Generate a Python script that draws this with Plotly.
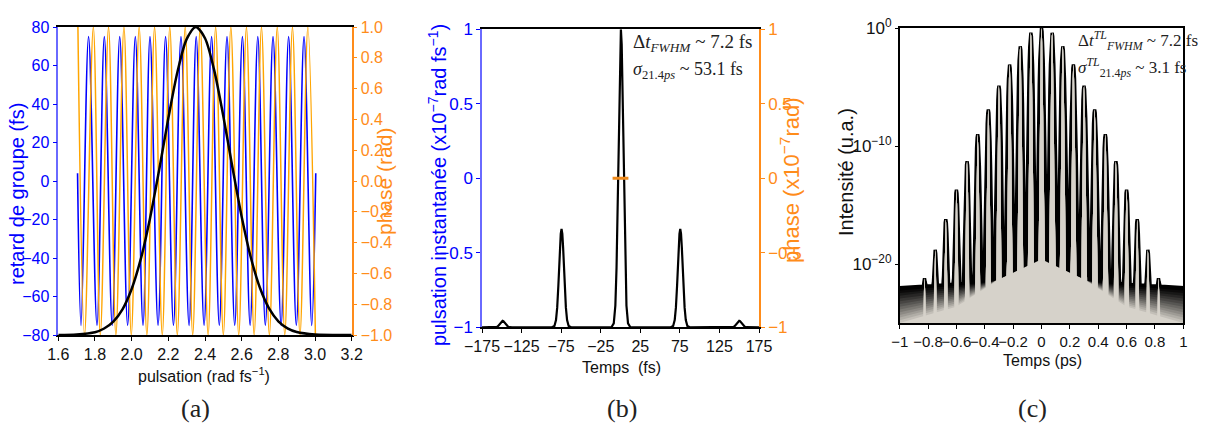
import numpy as np
import plotly.graph_objects as go

W, H = 1207, 427

# ---------------- Panel (a) data ----------------
gd_x = [1.705, 1.724, 1.765, 1.811, 1.851, 1.894, 1.935, 1.978, 2.020, 2.062, 2.100,
        2.144, 2.185, 2.228, 2.269, 2.313, 2.352, 2.395, 2.436, 2.478, 2.520, 2.562,
        2.604, 2.646, 2.688, 2.729, 2.771, 2.815, 2.856, 2.898, 2.940, 2.982, 3.004]
gd_y = [4, -75, 75, -75, 75, -75, 75, -75, 75, -75, 75,
        -75, 75, -75, 75, -75, 75, -75, 75, -75, 75, -75,
        75, -75, 75, -75, 75, -75, 75, -75, 75, -75, 4]

ph_x = [1.707, 1.743, 1.791, 1.829, 1.874, 1.914, 1.958, 1.998, 2.041, 2.083, 2.125,
        2.167, 2.208, 2.249, 2.292, 2.333, 2.374, 2.417, 2.458, 2.500, 2.541, 2.584,
        2.626, 2.668, 2.708, 2.751, 2.794, 2.835, 2.877, 2.918, 2.961, 3.002]
ph_y = [1, -1, 1, -1, 1, -1, 1, -1, 1, -1, 1,
        -1, 1, -1, 1, -1, 1, -1, 1, -1, 1, -1,
        1, -1, 1, -1, 1, -1, 1, -1, 1, -1]

spec_x = [1.60, 1.70, 1.80, 1.85, 1.90, 1.95, 2.00, 2.05, 2.10, 2.15, 2.20, 2.25, 2.30,
          2.35, 2.40, 2.45, 2.50, 2.55, 2.60, 2.65, 2.70, 2.75, 2.80, 2.85, 2.90, 3.00, 3.20]
spec_y = [-1.0, -0.997, -0.982, -0.958, -0.913, -0.833, -0.701, -0.506, -0.243, 0.072,
          0.407, 0.709, 0.921, 1.0, 0.927, 0.72, 0.42, 0.086, -0.232, -0.497, -0.695,
          -0.829, -0.911, -0.957, -0.981, -0.997, -1.0]

# ---------------- Panel (b) data ----------------
b_peak_t = [-149, -74.5, 0.5, 75.5, 150]
b_peak_h = [0.022, 0.33, 1.0, 0.33, 0.022]
b_prof_dt = [-12, -9, -7, -5.5, -4, -3, -2, -1, 0, 1, 2, 3, 4, 5.5, 7, 9, 12]
b_prof_v = [0.0, 0.013, 0.073, 0.2, 0.425, 0.62, 0.81, 0.95, 1.0,
            0.95, 0.81, 0.62, 0.425, 0.2, 0.073, 0.013, 0.0]
b_phase_t = [-10, 10]
b_phase_v = [0, 0]

# ---------------- Panel (c) data ----------------
c_peak_t = [-0.825, -0.75, -0.675, -0.6, -0.525, -0.45, -0.375, -0.3, -0.225, -0.15, -0.075,
            0.0, 0.075, 0.15, 0.225, 0.3, 0.375, 0.45, 0.525, 0.6, 0.675, 0.75, 0.825]
c_peak_log = [-21.2, -18.8, -16.2, -13.7, -11.3, -9.0, -6.9, -4.9, -3.1, -1.55, -0.4,
              0.0, -0.4, -1.55, -3.1, -4.9, -6.9, -9.0, -11.3, -13.7, -16.2, -18.8, -21.2]
c_prof_dt_fs = [0, 4, 8, 12, 16, 20, 25, 30, 36, 42]
c_prof_drop = [0, -0.3, -1.2, -2.7, -4.8, -7.5, -11.5, -16.5, -23.5, -32.0]
c_floor_t = [-1.0, -0.6, -0.3, 0.0, 0.3, 0.6, 1.0]
c_floor_dark = [-22.0, -21.7, -21.4, -21.2, -21.4, -21.7, -22.0]
c_floor_light = [-25.0, -23.6, -21.3, -19.6, -21.3, -23.6, -25.0]

# ---------------- styling ----------------
BLUE = "#0000ff"
ORANGE = "#ffa500"
ORANGE_AX = "#ff8c1a"
SANS = "Liberation Sans, Arial, sans-serif"
SERIF = "Liberation Serif, DejaVu Serif, serif"


def fx(p):
    return p / W


def fy(p):
    return 1 - p / H


dom_a = dict(x=[fx(58.3), fx(351.7)], y=[fy(335), fy(27)])
dom_b = dict(x=[fx(482), fx(759)], y=[fy(327.3), fy(29.3)])
dom_c = dict(x=[fx(899.7), fx(1183.3)], y=[fy(323.3), fy(28)])

fig = go.Figure()

# ---- (a) ----
fig.add_trace(go.Scatter(x=ph_x, y=ph_y, xaxis="x", yaxis="y2", mode="lines",
                         line=dict(color=ORANGE, width=1.5, shape="spline", smoothing=1.0),
                         hoverinfo="skip", showlegend=False))
fig.add_trace(go.Scatter(x=gd_x, y=gd_y, xaxis="x", yaxis="y", mode="lines",
                         line=dict(color=BLUE, width=1.6, shape="spline", smoothing=1.0),
                         hoverinfo="skip", showlegend=False))
fig.add_trace(go.Scatter(x=spec_x, y=spec_y, xaxis="x", yaxis="y2", mode="lines",
                         line=dict(color="black", width=2.5, shape="spline", smoothing=0.8),
                         hoverinfo="skip", showlegend=False))

# ---- (b) ----
bx, by = [-175.0], [-1.0]
for t0, h in zip(b_peak_t, b_peak_h):
    for dt, v in zip(b_prof_dt, b_prof_v):
        bx.append(t0 + dt)
        by.append(-1 + 2 * h * v)
bx.append(175.0)
by.append(-1.0)
fig.add_trace(go.Scatter(x=bx, y=by, xaxis="x2", yaxis="y3", mode="lines",
                         line=dict(color="black", width=2.2),
                         hoverinfo="skip", showlegend=False))
fig.add_trace(go.Scatter(x=b_phase_t, y=b_phase_v, xaxis="x2", yaxis="y4", mode="lines",
                         line=dict(color="#ee8a1c", width=3),
                         hoverinfo="skip", showlegend=False))

# ---- (c) ----
pk_t = np.array(c_peak_t)
pk_l = np.array(c_peak_log)
prof_dr = np.array(c_prof_drop)


def envelope(width_scale):
    pdt = np.array(c_prof_dt_fs) / 1000.0 * width_scale
    samples = set(c_floor_t)
    for t0 in c_peak_t:
        for d in pdt:
            samples.add(round(t0 - d, 6))
            samples.add(round(t0 + d, 6))
    ts = np.array(sorted(s for s in samples if -1.0 <= s <= 1.0))
    env = np.full(ts.shape, -99.0)
    for t0, l0 in zip(pk_t, pk_l):
        d = np.abs(ts - t0)
        contrib = np.where(d <= pdt[-1], l0 + np.interp(d, pdt, prof_dr), -99.0)
        env = np.maximum(env, contrib)
    return ts, env


ts_wide, env_wide = envelope(1.0)
ts_thin, env_thin = envelope(0.6)

K = 14
dark = np.array(c_floor_dark)
light = np.array(c_floor_light)
c0 = np.array([0, 0, 0])
c1 = np.array([214, 210, 202])
for k in range(K):
    f = k / (K - 1)
    ts, env = (ts_wide, env_wide) if k == 0 else (ts_thin, env_thin)
    floor_k = (1 - f) * dark + f * light
    fl = np.interp(ts, c_floor_t, floor_k)
    yk = np.maximum(fl, env)
    col = (c0 + (c1 - c0) * (f ** 1.15)).astype(int)
    colstr = f"rgb({col[0]},{col[1]},{col[2]})"
    xs = list(ts) + [1.0, -1.0]
    ys = list(10 ** yk) + [1e-28, 1e-28]
    fig.add_trace(go.Scatter(x=xs, y=ys, xaxis="x3", yaxis="y5", mode="lines",
                             fill="toself", fillcolor=colstr,
                             line=dict(color="black" if k == 0 else colstr,
                                       width=3.4 if k == 0 else 0),
                             hoverinfo="skip", showlegend=False))

common = dict(automargin=False, showgrid=False, zeroline=False, showline=True)
TF = 15
fig.update_layout(
    width=W, height=H, margin=dict(l=0, r=0, t=0, b=0, autoexpand=False),
    paper_bgcolor="white", plot_bgcolor="white", showlegend=False,
    xaxis=dict(domain=dom_a["x"], anchor="y", range=[1.6, 3.2],
               tickvals=[1.6, 1.8, 2.0, 2.2, 2.4, 2.6, 2.8, 3.0, 3.2], tickformat=".1f",
               ticks="outside", ticklen=4, tickcolor="black", tickangle=0,
               linecolor="black", linewidth=2, mirror=True,
               tickfont=dict(family=SANS, size=TF + 1, color="#111"), **common),
    yaxis=dict(domain=dom_a["y"], anchor="x", range=[-80, 80], dtick=20,
               ticks="outside", ticklen=4, tickcolor=BLUE,
               linecolor="#6a6aff", linewidth=1.5,
               tickfont=dict(family=SANS, size=TF + 1, color=BLUE), **common),
    yaxis2=dict(overlaying="y", side="right", anchor="x", range=[-1, 1], dtick=0.2,
                tickformat=".1f", ticks="outside", ticklen=4, tickcolor=ORANGE_AX,
                linecolor=ORANGE_AX, linewidth=1.5,
                tickfont=dict(family=SANS, size=TF + 1, color=ORANGE_AX), **common),
    xaxis2=dict(domain=dom_b["x"], anchor="y3", range=[-175, 175],
                tickvals=[-175, -125, -75, -25, 25, 75, 125, 175], tickangle=0,
                ticks="outside", ticklen=4, tickcolor="black",
                linecolor="black", linewidth=1.5, mirror=True,
                tickfont=dict(family=SANS, size=TF + 1, color="#111"), **common),
    yaxis3=dict(domain=dom_b["y"], anchor="x2", range=[-1, 1],
                tickvals=[-1, -0.5, 0, 0.5, 1], ticktext=["−1", "−0.5", "0", "0.5", "1"],
                ticks="outside", ticklen=4, tickcolor=BLUE,
                linecolor="#6a6aff", linewidth=1.5,
                tickfont=dict(family=SANS, size=TF + 2, color=BLUE), **common),
    yaxis4=dict(overlaying="y3", side="right", anchor="x2", range=[-1, 1],
                tickvals=[-1, -0.5, 0, 0.5, 1], ticktext=["−1", "−0.5", "0", "0.5", "1"],
                ticks="outside", ticklen=4, tickcolor=ORANGE_AX,
                linecolor=ORANGE_AX, linewidth=1.5,
                tickfont=dict(family=SANS, size=TF + 2, color=ORANGE_AX), **common),
    xaxis3=dict(domain=dom_c["x"], anchor="y5", range=[-1, 1], tickangle=0,
                tickvals=[-1, -0.8, -0.6, -0.4, -0.2, 0, 0.2, 0.4, 0.6, 0.8, 1],
                ticktext=["−1", "−0.8", "−0.6", "−0.4", "−0.2", "0", "0.2", "0.4", "0.6", "0.8", "1"],
                ticks="outside", ticklen=4, tickcolor="black",
                linecolor="black", linewidth=1.5, mirror=True,
                tickfont=dict(family=SANS, size=TF, color="#111"), **common),
    yaxis5=dict(domain=dom_c["y"], anchor="x3", type="log", range=[-25.02, 0],
                tickvals=[1, 1e-10, 1e-20],
                ticktext=["10<sup>0</sup>", "10<sup>−10</sup>", "10<sup>−20</sup>"],
                ticks="outside", ticklen=3, tickcolor="black",
                linecolor="black", linewidth=1.5, mirror=True,
                tickfont=dict(family=SANS, size=TF + 2, color="#111"), **common),
)

ann = []


def A(text, x, y, size, color="black", family=SANS, angle=0, xanchor="center"):
    ann.append(dict(text=text, x=fx(x), y=fy(y), xref="paper", yref="paper",
                    showarrow=False, textangle=angle, xanchor=xanchor, yanchor="middle",
                    font=dict(family=family, size=size, color=color)))


# axis titles
A("retard de groupe (fs)", 17, 194, 20, BLUE, angle=-90)
A("phase (rad)", 384, 182, 21, ORANGE_AX, angle=-90)
A("pulsation (rad fs<sup>−1</sup>)", 204, 375, 16, "#111")
A("pulsation instantanée (x10<sup>−7</sup>rad fs<sup>−1</sup>)", 437, 185, 20, BLUE, angle=-90)
A("phase (x10<sup>−7</sup>rad)", 790, 180, 22, ORANGE_AX, angle=-90)
A("Temps  (fs)", 621, 367, 16, "#111")
A("Intensité (u.a.)", 846, 172, 20, "#111", angle=-90)
A("Temps (ps)", 1042, 360, 16, "#111")
# panel labels
A("(a)", 195, 408, 26, "#222", SERIF)
A("(b)", 622, 408, 26, "#222", SERIF)
A("(c)", 1032, 408, 26, "#222", SERIF)
# math annotations
A("Δ<i>t</i><sub><i>FWHM</i></sub> ~ 7.2 fs", 631, 43, 19, "#222", SERIF, xanchor="left")
A("<i>σ</i><sub>21.4<i>ps</i></sub> ~ 53.1 fs", 631, 71, 18, "#222", SERIF, xanchor="left")
A("Δ<i>t</i><sup><i>TL</i></sup><sub><i>FWHM</i></sub> ~ 7.2 fs", 1076, 40, 17, "#222", SERIF, xanchor="left")
A("<i>σ</i><sup><i>TL</i></sup><sub>21.4<i>ps</i></sub> ~ 3.1 fs", 1076, 68, 17, "#222", SERIF, xanchor="left")

fig.update_layout(annotations=ann)

# white mask reproducing the cut-off bottom of the (a) x-axis title
fig.add_shape(type="rect", xref="paper", yref="paper", layer="above",
              x0=fx(120), x1=fx(300), y0=fy(392), y1=fy(378),
              fillcolor="white", line=dict(width=0))

fig.write_html("out.html",
               config={"displayModeBar": False},
               post_script="document.body.style.margin='0px';"
                           "document.body.style.overflow='hidden';")
